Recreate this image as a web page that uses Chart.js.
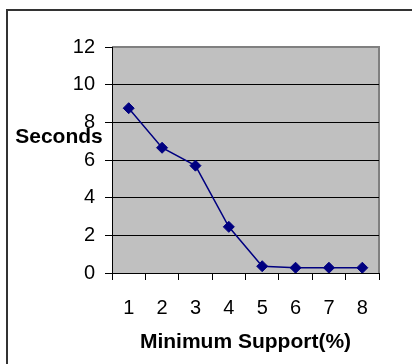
<!DOCTYPE html>
<html>
<head>
<meta charset="utf-8">
<script src="https://cdn.jsdelivr.net/npm/chart.js@4.4.1/dist/chart.umd.min.js"></script>
<style>
html,body{margin:0;padding:0;background:#fff;}
#wrap{position:relative;width:412px;height:364px;}
</style>
</head>
<body>
<div id="wrap"><canvas id="c" width="412" height="364"></canvas></div>
<script>
const categories = ['1','2','3','4','5','6','7','8'];
const seconds = [8.75, 6.65, 5.7, 2.45, 0.36, 0.28, 0.28, 0.28];
const yTickMax = 12;
const yTickStep = 2;
const xTitle = 'Minimum Support(%)';
const yTitle = 'Seconds';

const FONT = "'Liberation Sans', Arial, Helvetica, sans-serif";

const frame = {
  id: 'frame',
  beforeDraw(chart) {
    const ctx = chart.ctx;
    const a = chart.chartArea;
    ctx.save();
    ctx.fillStyle = '#ffffff';
    ctx.fillRect(0, 0, chart.width, chart.height);
    ctx.strokeStyle = '#333333';
    ctx.lineWidth = 2;
    ctx.beginPath();
    ctx.moveTo(7, chart.height + 5);
    ctx.lineTo(7, 10);
    ctx.lineTo(chart.width + 5, 10);
    ctx.stroke();
    ctx.fillStyle = '#c0c0c0';
    ctx.fillRect(a.left, a.top, a.right - a.left, a.bottom - a.top);
    ctx.strokeStyle = '#808080';
    ctx.lineWidth = 2;
    ctx.beginPath();
    ctx.moveTo(a.left, a.top);
    ctx.lineTo(a.right, a.top);
    ctx.lineTo(a.right, a.bottom);
    ctx.stroke();
    ctx.restore();
  },
  afterDraw(chart) {
    const ctx = chart.ctx;
    const y = chart.scales.y;
    ctx.save();
    ctx.fillStyle = '#000';
    ctx.font = "bold 21px " + FONT;
    ctx.textAlign = 'center';
    ctx.textBaseline = 'middle';
    ctx.fillText(yTitle, 59, y.getPixelForValue(7.2));
    ctx.restore();
  }
};

new Chart(document.getElementById('c'), {
  type: 'line',
  data: {
    labels: categories,
    datasets: [{
      data: seconds,
      borderColor: '#000080',
      backgroundColor: '#000080',
      borderWidth: 1.5,
      pointStyle: 'rectRot',
      pointRadius: 5.5,
      pointBorderWidth: 1,
      pointBackgroundColor: '#000080',
      pointBorderColor: '#000080',
      tension: 0,
      fill: false
    }]
  },
  options: {
    responsive: false,
    animation: false,
    devicePixelRatio: 1,
    layout: { padding: { top: 47, right: 33, left: 0, bottom: 0 } },
    plugins: { legend: { display: false }, tooltip: { enabled: false } },
    scales: {
      x: {
        type: 'category',
        offset: true,
        grid: { offset: true, drawOnChartArea: false, drawTicks: true, tickLength: 7, color: '#000', lineWidth: 1 },
        border: { color: '#000', width: 1 },
        ticks: { color: '#000', font: { family: FONT, size: 20 }, padding: 16, maxRotation: 0, autoSkip: false },
        title: { display: true, text: xTitle, color: '#000', font: { family: FONT, size: 21, weight: 'bold' }, padding: { top: 0, bottom: 9 } },
        afterFit(s) { s.height = 91; }
      },
      y: {
        min: 0,
        max: yTickMax,
        grid: {
          color: (c) => (c.tick && c.tick.value === yTickMax) ? '#808080' : '#000',
          tickColor: '#000',
          tickLength: 7,
          lineWidth: 1
        },
        border: { color: '#000', width: 1 },
        ticks: { stepSize: yTickStep, color: '#000', font: { family: FONT, size: 20 }, padding: 10 },
        afterFit(s) { s.width = 112; }
      }
    }
  },
  plugins: [frame]
});
</script>
</body>
</html>
